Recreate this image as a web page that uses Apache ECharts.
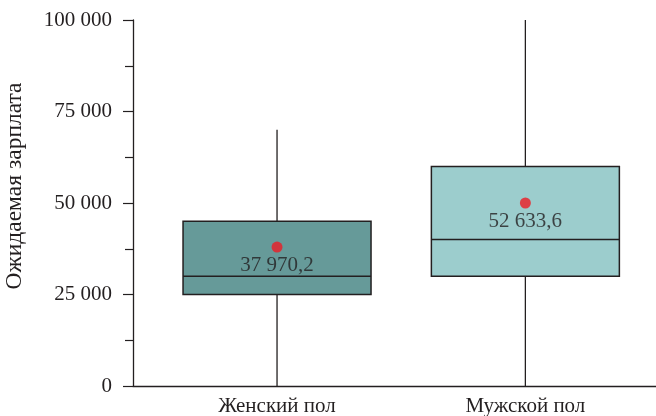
<!DOCTYPE html>
<html><head><meta charset="utf-8">
<script src="https://cdn.jsdelivr.net/npm/echarts@6/dist/echarts.min.js"></script>
<style>html,body{margin:0;padding:0;background:#fff}#c{width:656px;height:416px}</style>
</head><body><div id="c"></div>
<script>
// ---- data ----
const categories = ['Женский пол', 'Мужской пол'];
const categoryPos = [1, 2];
const whiskerMin = [0, 0];
const q1 = [25000, 30000];
const median = [30000, 40000];
const q3 = [45000, 60000];
const whiskerMax = [70000, 100000];
const meanDots = [37970.2, 50000];
const meanLabels = ['37 970,2', '52 633,6'];
const yTicks = [0, 25000, 50000, 75000, 100000];
const yAxisName = 'Ожидаемая зарплата';

// ---- styles ----
const boxColors = ['#669a99', '#9ccdcd'];
const ink = '#231f20';
const FONT = '"Liberation Serif", "Times New Roman", serif';
const BOX_W = 0.757; // in x-axis units

const boxData = categories.map((c, i) => [categoryPos[i], whiskerMin[i], q1[i], median[i], q3[i], whiskerMax[i]]);
const meanData = categories.map((c, i) => [categoryPos[i], meanDots[i]]);

const fmt = v => String(v).replace(/\B(?=(\d{3})+(?!\d))/g, ' ');

const chart = echarts.init(document.getElementById('c'), null, {renderer: 'canvas'});
chart.setOption({
  animation: false,
  backgroundColor: '#fff',
  grid: {left: 133, right: 0, top: 20, bottom: 30, containLabel: false, outerBoundsMode: 'none'},
  xAxis: {
    type: 'value', min: 0.42, max: 2.526,
    splitLine: {show: false},
    axisTick: {show: false},
    axisLine: {show: true, lineStyle: {color: ink, width: 1.3}},
    axisLabel: {
      customValues: categoryPos,
      formatter: v => categories[categoryPos.indexOf(v)] || '',
      fontFamily: FONT, fontSize: 21, color: ink, margin: 10
    }
  },
  yAxis: {
    type: 'value', min: 0, max: 100000, interval: 25000,
    name: yAxisName, nameLocation: 'middle', nameRotate: 90, nameGap: 106,
    nameTextStyle: {fontFamily: FONT, fontSize: 23.5, color: ink, padding: [0, 0, 0, 34]},
    splitLine: {show: false},
    axisLine: {show: true, lineStyle: {color: ink, width: 1.3}},
    axisTick: {show: true, length: 10, lineStyle: {color: ink, width: 1.2}},
    minorTick: {show: true, splitNumber: 2, length: 8, lineStyle: {color: ink, width: 1.2}},
    axisLabel: {
      formatter: v => yTicks.indexOf(v) >= 0 ? fmt(v) : '',
      fontFamily: FONT, fontSize: 21, color: ink, margin: 21
    }
  },
  series: [{
    type: 'custom',
    encode: {x: 0, y: [1, 2, 3, 4, 5]},
    data: boxData,
    renderItem: (params, api) => {
      const x = api.value(0);
      const pMin = api.coord([x, api.value(1)]);
      const pQ1 = api.coord([x, api.value(2)]);
      const pMed = api.coord([x, api.value(3)]);
      const pQ3 = api.coord([x, api.value(4)]);
      const pMax = api.coord([x, api.value(5)]);
      const half = api.size([BOX_W, 0])[0] / 2;
      const cx = pMed[0];
      const ls = {stroke: ink, lineWidth: 1.3};
      return {type: 'group', children: [
        {type: 'line', shape: {x1: cx, y1: pMin[1], x2: cx, y2: pQ1[1]}, style: ls},
        {type: 'line', shape: {x1: cx, y1: pQ3[1], x2: cx, y2: pMax[1]}, style: ls},
        {type: 'rect', shape: {x: cx - half, y: pQ3[1], width: 2 * half, height: pQ1[1] - pQ3[1]},
          style: {fill: boxColors[params.dataIndex], stroke: ink, lineWidth: 1.5}},
        {type: 'line', shape: {x1: cx - half, y1: pMed[1], x2: cx + half, y2: pMed[1]}, style: {stroke: ink, lineWidth: 1.5}}
      ]};
    }
  }, {
    type: 'scatter',
    data: meanData,
    symbol: 'circle', symbolSize: 11,
    itemStyle: {color: '#ed1c24'},
    z: 5,
    label: {
      show: true, position: 'bottom', distance: 2,
      formatter: p => meanLabels[p.dataIndex],
      fontFamily: FONT, fontSize: 21, color: ink
    }
  }]
});
</script>
</body></html>
